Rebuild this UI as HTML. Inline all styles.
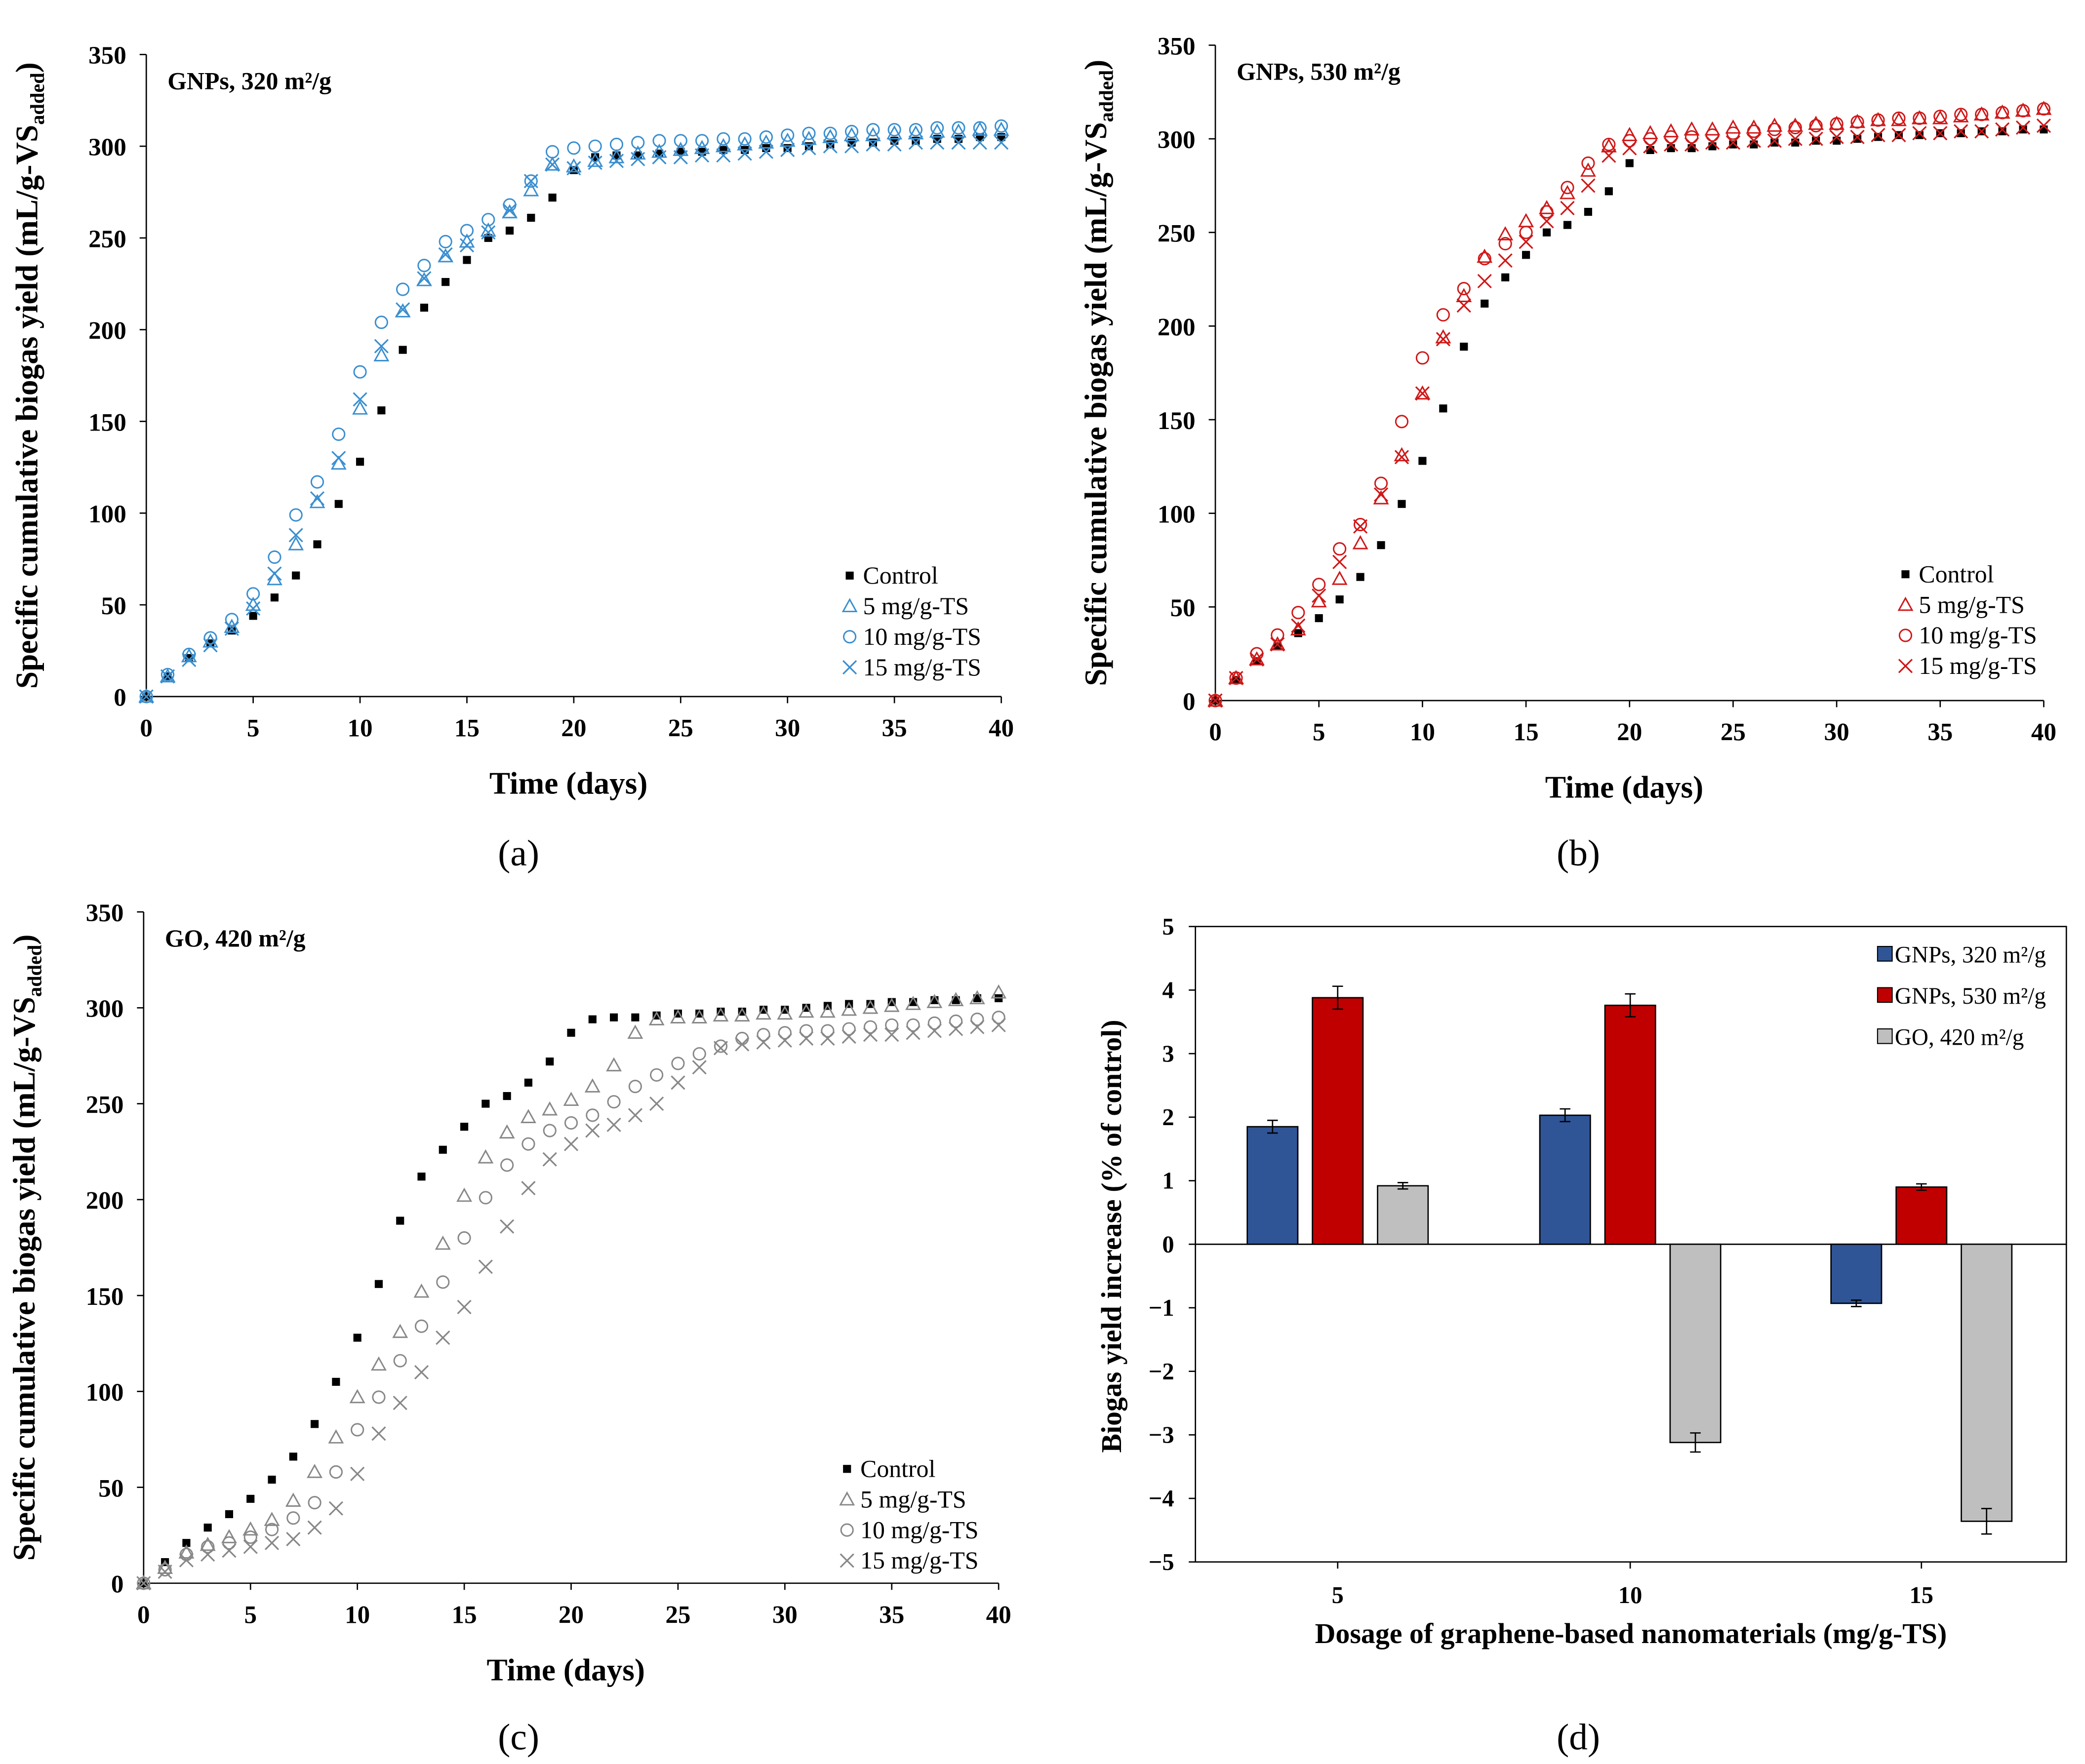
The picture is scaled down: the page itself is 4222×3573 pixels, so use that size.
<!DOCTYPE html>
<html><head><meta charset="utf-8"><style>
html,body{margin:0;padding:0;background:#fff}
svg{display:block}
text{font-family:"Liberation Serif",serif}
</style></head><body>
<svg id="fig" width="4222" height="3573" viewBox="0 0 1568 1327" xmlns="http://www.w3.org/2000/svg"></svg>
<script>
const days = Array.from({length:41},(_,i)=>i);
const control = [0,11,21,29,36,44,54,66,83,105,128,156,189,212,226,238,250,254,261,272,287,294,295,295,296,297,297,298,298,299,299,300,301,302,302,303,303,304,304,305,305];
const a5  = [0,11,22,30,38,50,64,83,106,127,157,186,210,227,240,248,254,264,276,290,289,292,294,296,297,298,299,300,301,302,303,304,305,306,306,307,307,308,308,309,309];
const a10 = [0,12,23,32,42,56,76,99,117,143,177,204,222,235,248,254,260,268,281,297,299,300,301,302,303,303,303,304,304,305,306,307,307,308,309,309,309,310,310,310,311];
const a15 = [0,11,20,28,37,48,67,88,108,130,162,191,211,228,241,246,253,265,281,290,288,291,292,293,294,294,295,295,296,297,298,299,300,300,301,301,302,302,302,302,302];
const b5  = [0,12,22,30,38,53,65,84,108,131,164,194,216,237,249,256,263,271,283,296,302,303,304,305,305,306,306,307,307,308,308,309,310,310,311,311,312,313,314,315,316];
const b10 = [0,12,25,35,47,62,81,94,116,149,183,206,220,236,244,250,261,274,287,297,299,300,301,301,302,303,304,305,306,307,308,309,310,311,311,312,313,313,314,315,316];
const b15 = [0,12,22,30,40,56,74,93,110,130,164,193,211,224,235,245,256,263,275,291,295,296,297,297,298,298,299,299,300,300,301,301,302,302,303,303,304,304,305,306,307];
const c5  = [0,8,16,20,24,28,33,43,58,76,97,114,131,152,177,202,222,235,243,247,252,259,270,287,294,295,295,296,296,297,297,298,298,299,300,301,302,303,304,305,308];
const c10 = [0,7,15,19,21,24,28,34,42,58,80,97,116,134,157,180,201,218,229,236,240,244,251,259,265,271,276,280,284,286,287,288,288,289,290,291,291,292,293,294,295];
const c15 = [0,6,12,15,17,19,21,23,29,39,57,78,94,110,128,144,165,186,206,221,229,236,239,244,250,261,269,279,281,282,283,284,284,285,286,286,287,288,289,290,291];
const xTicks = [0,5,10,15,20,25,30,35,40];
const yTicks = [0,50,100,150,200,250,300,350];
const doses = ["5","10","15"];
const gnp320 = [1.85,2.03,-0.93];
const gnp530 = [3.88,3.76,0.90];
const go420  = [0.92,-3.12,-4.36];
const err320 = [0.10,0.10,0.05];
const err530 = [0.18,0.18,0.05];
const errGO  = [0.05,0.15,0.20];
const dTicks = [5,4,3,2,1,0,-1,-2,-3,-4,-5];

const NS="http://www.w3.org/2000/svg";
const svg=document.getElementById('fig');
function el(tag,attrs,parent,txt){const e=document.createElementNS(NS,tag);for(const k in attrs)e.setAttribute(k,attrs[k]);if(txt!==undefined)e.textContent=txt;(parent||svg).appendChild(e);return e;}

function marker(g,type,x,y,color){
  let m;
  if(type==='sq'){m=el('rect',{x:x-3,y:y-3,width:6,height:6,fill:'#000'},g);}
  else if(type==='tri'){m=el('polygon',{points:`${x},${y-5} ${x-5},${y+4} ${x+5},${y+4}`,fill:'none',stroke:color,'stroke-width':1.1},g);}
  else if(type==='circ'){m=el('circle',{cx:x,cy:y,r:4.5,fill:'none',stroke:color,'stroke-width':1.1},g);}
  else {m=el('path',{d:`M${x-5},${y-5}L${x+5},${y+5}M${x-5},${y+5}L${x+5},${y-5}`,stroke:color,'stroke-width':1.2},g);}
  return m;
}

function linePanel(id,x0,x1,y0,y1,title,color,series,lab,labX,labY,legX,legY){
  const g=el('g',{});
  
  
  const sx=v=>x0+(x1-x0)*v/40, sy=v=>y0-(y0-y1)*v/350;
  el('line',{x1:x0,y1:y0,x2:x1,y2:y0,stroke:'#000','stroke-width':1},g);
  el('line',{x1:x0,y1:y0,x2:x0,y2:y1,stroke:'#000','stroke-width':1},g);
  xTicks.forEach(t=>{el('line',{x1:sx(t),y1:y0,x2:sx(t),y2:y0+5,stroke:'#000'},g);
    const tl=el('text',{x:sx(t),y:y0+30,'text-anchor':'middle','font-size':19,'font-weight':'bold'},g,t);
    });
  yTicks.forEach(t=>{el('line',{x1:x0-5,y1:sy(t),x2:x0,y2:sy(t),stroke:'#000'},g);
    const tl=el('text',{x:x0-15,y:sy(t)+7,'text-anchor':'end','font-size':19,'font-weight':'bold'},g,t);
    });
  const xt=el('text',{x:(x0+x1)/2-4,y:y0+73,'text-anchor':'middle','font-size':23.5,'font-weight':'bold'},g,'Time (days)');
  
  const yt=el('text',{transform:`translate(${x0-82},${(y0+y1)/2}) rotate(-90)`,'text-anchor':'middle','font-size':23.5,'font-weight':'bold'},g);
  
  el('tspan',{},yt,'Specific cumulative biogas yield (mL/g-VS');
  el('tspan',{'font-size':15,dy:5},yt,'added');
  el('tspan',{dy:-5},yt,')');
  const tt=el('text',{x:x0+16,y:y1+26,'font-size':18.5,'font-weight':'bold'},g,title);
  
  const types=['sq','tri','circ','x'];
  const names=['Control','5 mg/g-TS','10 mg/g-TS','15 mg/g-TS'];
  series.forEach((s,si)=>{
    const sg=el('g',{},g);
    
    
    s.forEach((v,i)=>{const m=marker(sg,types[si],sx(days[i]),sy(v),color);
      });
    const lg=el('g',{},g);
    
    
    marker(lg,types[si],legX,legY+si*23-6,color);
    el('text',{x:legX+10,y:legY+si*23,'font-size':18.5},lg,names[si]);
  });
  const pl=el('text',{x:labX,y:labY,'text-anchor':'middle','font-size':28},g,lab);
  
}
linePanel('a',110,753,524,41,'GNPs, 320 m²/g','#3A8FD0',[control,a5,a10,a15],'(a)',390,651,639,439);
linePanel('b',914,1537,527,34,'GNPs, 530 m²/g','#D01818',[control,b5,b10,b15],'(b)',1187,651,1433,438);
linePanel('c',108,751,1191,686,'GO, 420 m²/g','#888888',[control,c5,c10,c15],'(c)',390,1316,637,1111);

// Panel d
(function(){
  const g=el('g',{});
  
  
  const L=899,R=1554,T=697,B=1175;
  const sy=v=>T+(5-v)*(B-T)/10;
  const cx=[1006,1226,1445];
  el('rect',{x:L,y:T,width:R-L,height:B-T,fill:'none',stroke:'#000','stroke-width':1},g);
  el('line',{x1:L,y1:sy(0),x2:R,y2:sy(0),stroke:'#000'},g);
  dTicks.forEach(t=>{el('line',{x1:L-5,y1:sy(t),x2:L,y2:sy(t),stroke:'#000'},g);
    const tl=el('text',{x:L-16,y:sy(t)+6,'text-anchor':'end','font-size':18,'font-weight':'bold'},g,t<0?'−'+(-t):t);
    });
  doses.forEach((d,i)=>{el('line',{x1:cx[i],y1:B,x2:cx[i],y2:B+5,stroke:'#000'},g);
    const tl=el('text',{x:cx[i],y:B+31,'text-anchor':'middle','font-size':18,'font-weight':'bold'},g,d);
    });
  const series=[[gnp320,err320,'#2F5597','GNPs, 320 m²/g'],[gnp530,err530,'#C00000','GNPs, 530 m²/g'],[go420,errGO,'#BFBFBF','GO, 420 m²/g']];
  series.forEach((s,si)=>{
    s[0].forEach((v,i)=>{
      const x=cx[i]+(si-1)*49-19;
      const y=Math.min(sy(v),sy(0)),h=Math.abs(sy(v)-sy(0));
      const b=el('rect',{x:x,y:y,width:38,height:h,fill:s[2],stroke:'#000','stroke-width':1},g);
      
      
      const xm=x+19,e=s[1][i];
      el('path',{d:`M${xm},${sy(v+e)}V${sy(v-e)}M${xm-4},${sy(v+e)}H${xm+4}M${xm-4},${sy(v-e)}H${xm+4}`,stroke:'#000','stroke-width':1,fill:'none'},g);
    });
    const lg=el('g',{},g);
    
    
    el('rect',{x:1412,y:712+si*31,width:11,height:11,fill:s[2],stroke:'#000','stroke-width':0.8},lg);
    el('text',{x:1425,y:724+si*31,'font-size':17.5},lg,s[3]);
  });
  const xt=el('text',{x:(L+R)/2,y:1236,'text-anchor':'middle','font-size':21.5,'font-weight':'bold'},g,'Dosage of graphene-based nanomaterials (mg/g-TS)');
  
  const yt=el('text',{transform:`translate(843,${930}) rotate(-90)`,'text-anchor':'middle','font-size':21.5,'font-weight':'bold'},g,'Biogas yield increase (% of control)');
  
  const pl=el('text',{x:1187,y:1316,'text-anchor':'middle','font-size':28},g,'(d)');
  
})();
</script>
</body></html>
